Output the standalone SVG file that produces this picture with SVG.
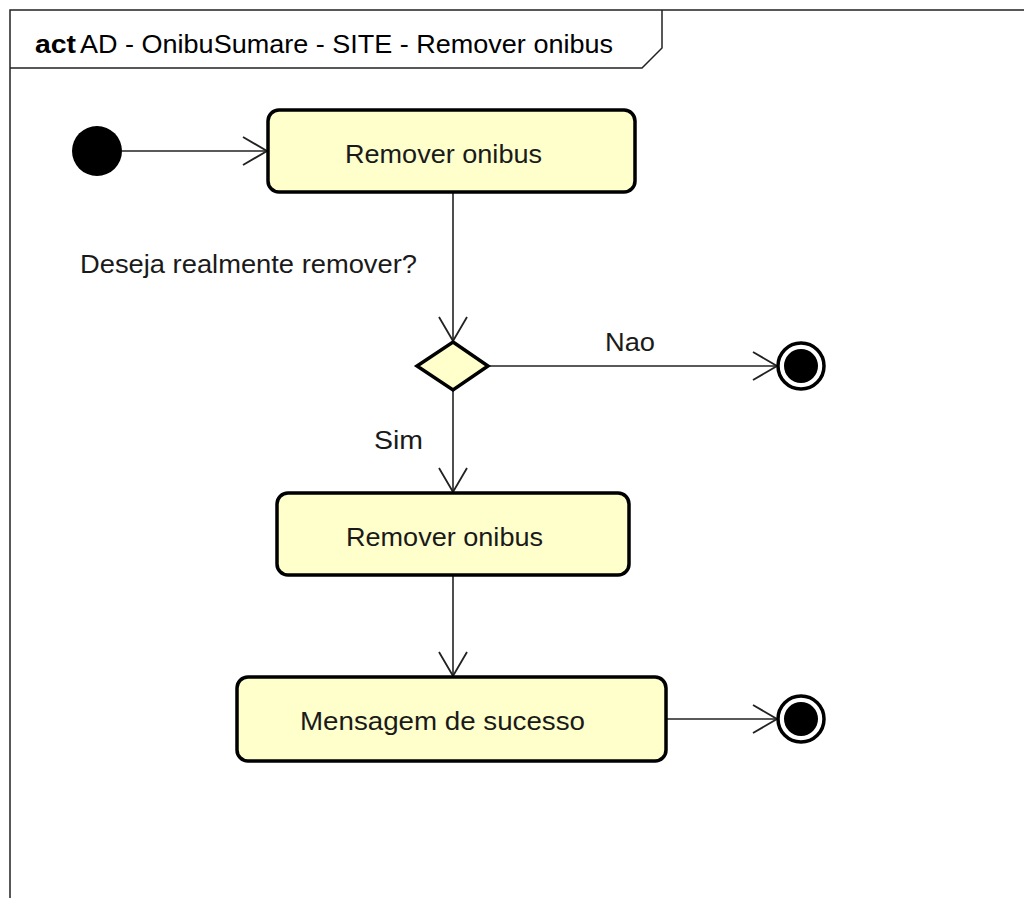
<svg xmlns="http://www.w3.org/2000/svg" width="1024" height="898" viewBox="0 0 1024 898">
<defs>
<style>
.frame{fill:none;stroke:#222;stroke-width:1.5}
.action{fill:#ffffcc;stroke:#000;stroke-width:3.5}
.diamond{fill:#ffffcc;stroke:#000;stroke-width:3.5}
.edge{fill:none;stroke:#222;stroke-width:1.6}
.lbl{font-family:"Liberation Sans",Arial,sans-serif;font-size:26px;fill:#1a1a1a}
.title{font-family:"Liberation Sans",Arial,sans-serif;font-size:26px;fill:#000}
</style>
<marker id="arr" viewBox="0 0 26 30" refX="25" refY="15" markerWidth="26" markerHeight="30" markerUnits="userSpaceOnUse" orient="auto">
<path d="M1,1 L25,15 L1,29" fill="none" stroke="#222" stroke-width="1.8"/>
</marker>
</defs>
<rect width="1024" height="898" fill="#fff"/>
<g id="frame">
<path class="frame" d="M10,898 V10 H1024"/>
<path class="frame" d="M10,68 H642 L662,48 V10"/>
<text class="title" x="35" y="53"><tspan font-weight="bold" textLength="41" lengthAdjust="spacingAndGlyphs">act</tspan><tspan x="80" textLength="533" lengthAdjust="spacingAndGlyphs">AD - OnibuSumare - SITE - Remover onibus</tspan></text>
</g>
<g id="connectors">
<line class="edge" x1="122" y1="151" x2="267" y2="151" marker-end="url(#arr)"/>
<line class="edge" x1="453" y1="192" x2="453" y2="341" marker-end="url(#arr)"/>
<line class="edge" x1="489" y1="366" x2="777" y2="366" marker-end="url(#arr)"/>
<line class="edge" x1="453" y1="391" x2="453" y2="492" marker-end="url(#arr)"/>
<line class="edge" x1="453" y1="575" x2="453" y2="676" marker-end="url(#arr)"/>
<line class="edge" x1="666" y1="719" x2="777" y2="719" marker-end="url(#arr)"/>
<text class="lbl" x="80" y="273" textLength="337" lengthAdjust="spacingAndGlyphs">Deseja realmente remover?</text>
<text class="lbl" x="605" y="351" textLength="50" lengthAdjust="spacingAndGlyphs">Nao</text>
<text class="lbl" x="374" y="449" textLength="49" lengthAdjust="spacingAndGlyphs">Sim</text>
</g>
<g id="initial">
<circle cx="97" cy="151" r="25" fill="#000"/>
</g>
<g id="action1">
<rect class="action" x="268" y="110" width="367" height="82" rx="11"/>
<text class="lbl" x="345" y="163" textLength="197" lengthAdjust="spacingAndGlyphs">Remover onibus</text>
</g>
<g id="decision">
<polygon class="diamond" points="453,342 488,366 453,390 417,366"/>
</g>
<g id="final1">
<circle cx="801" cy="366" r="23" fill="#fff" stroke="#000" stroke-width="3.5"/>
<circle cx="801" cy="366" r="17" fill="#000"/>
</g>
<g id="action2">
<rect class="action" x="277" y="493" width="352" height="82" rx="11"/>
<text class="lbl" x="346" y="546" textLength="197" lengthAdjust="spacingAndGlyphs">Remover onibus</text>
</g>
<g id="action3">
<rect class="action" x="237" y="677" width="429" height="84" rx="11"/>
<text class="lbl" x="300" y="730" textLength="285" lengthAdjust="spacingAndGlyphs">Mensagem de sucesso</text>
</g>
<g id="final2">
<circle cx="801" cy="719" r="23" fill="#fff" stroke="#000" stroke-width="3.5"/>
<circle cx="801" cy="719" r="17" fill="#000"/>
</g>
</svg>
